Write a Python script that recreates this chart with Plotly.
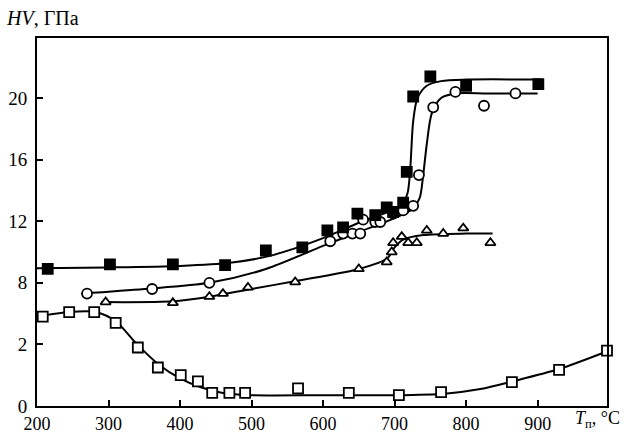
import plotly.graph_objects as go

# ---- data ----
# filled squares
fs_x = [215, 302, 390, 463, 520, 571, 606, 628, 648, 673, 689, 698, 712, 717, 726, 750, 800, 901]
fs_y = [8.9, 9.2, 9.2, 9.15, 10.1, 10.3, 11.4, 11.6, 12.5, 12.4, 12.9, 12.6, 13.2, 15.2, 20.1, 21.4, 20.8, 20.9]
fs_cx = [200, 300, 400, 470, 530, 600, 650, 690, 710, 718, 722, 726, 732, 745, 765, 800, 905]
fs_cy = [8.95, 9.0, 9.1, 9.3, 9.8, 10.9, 11.9, 12.6, 13.1, 13.8, 15.5, 18.5, 20.0, 20.8, 21.1, 21.2, 21.2]

# open circles
oc_x = [270, 361, 441, 610, 628, 641, 652, 656, 673, 680, 698, 712, 726, 734, 754, 785, 825, 869]
oc_y = [7.3, 7.6, 8.0, 10.7, 11.2, 11.2, 11.2, 12.1, 11.95, 11.95, 12.5, 12.7, 13.0, 15.0, 19.4, 20.4, 19.5, 20.3]
oc_cx = [262, 350, 441, 520, 600, 650, 700, 725, 735, 740, 745, 752, 765, 785, 830, 900]
oc_cy = [7.3, 7.6, 8.0, 8.9, 10.4, 11.3, 12.2, 12.8, 13.5, 15.0, 17.0, 19.0, 20.0, 20.3, 20.3, 20.3]

# open triangles
tr_x = [296, 390, 441, 460, 495, 561, 650, 689, 696, 698, 710, 719, 731, 745, 768, 796, 834]
tr_y = [6.75, 6.7, 7.1, 7.3, 7.7, 8.05, 8.9, 9.35, 10.0, 10.6, 11.0, 10.6, 10.6, 11.4, 11.2, 11.55, 10.6]
tr_cx = [290, 390, 441, 500, 560, 650, 690, 700, 712, 740, 800, 837]
tr_cy = [6.75, 6.8, 7.1, 7.6, 8.1, 8.9, 9.6, 10.3, 10.8, 11.1, 11.2, 11.2]

# open squares
os_x = [208, 245, 280, 310, 341, 369, 401, 425, 445, 469, 491, 565, 636, 706, 765, 864, 930, 997]
os_y = [5.8, 6.1, 6.1, 5.4, 3.8, 2.5, 2.0, 1.6, 0.85, 0.85, 0.85, 1.15, 0.85, 0.7, 0.9, 1.55, 2.35, 3.6]
os_cx = [200, 245, 282, 310, 340, 370, 400, 430, 460, 500, 600, 700, 770, 820, 865, 930, 1000]
os_cy = [5.8, 6.1, 6.1, 5.5, 4.0, 2.7, 1.8, 1.2, 0.85, 0.7, 0.7, 0.7, 0.8, 1.1, 1.6, 2.4, 3.6]

x_ticks = [200, 300, 400, 500, 600, 700, 800, 900]
y_ticks = [0, 4, 8, 12, 16, 20]
y_ticktext = ["0", "2", "8", "12", "16", "20"]

FONT = "Liberation Serif, Times New Roman, serif"

fig = go.Figure()

def curve(x, y):
    fig.add_trace(go.Scatter(x=x, y=y, mode="lines", line=dict(color="black", width=2, shape="spline", smoothing=0.8),
                             hoverinfo="skip", showlegend=False))

def marks(x, y, symbol, fill, size):
    fig.add_trace(go.Scatter(x=x, y=y, mode="markers", cliponaxis=False,
                             marker=dict(symbol=symbol, size=size, color=fill, line=dict(color="black", width=1.8)),
                             showlegend=False))

curve(os_cx, os_cy)
curve(tr_cx, tr_cy)
curve(oc_cx, oc_cy)
curve(fs_cx, fs_cy)
marks(os_x, os_y, "square", "white", 10)
marks(tr_x, tr_y, "triangle-up", "white", 9)
marks(oc_x, oc_y, "circle", "white", 10)
marks(fs_x, fs_y, "square", "black", 10)

fig.update_xaxes(range=[200, 997], tickvals=x_ticks, ticks="inside", ticklen=6, tickwidth=1.5, tickcolor="black",
                 showline=True, linecolor="black", linewidth=2, mirror=True, showgrid=False, zeroline=False,
                 automargin=False, ticklabelstandoff=0, tickfont=dict(family=FONT, size=18, color="black"))
fig.update_yaxes(range=[0, 23.9], tickvals=y_ticks, ticktext=y_ticktext, ticks="inside", ticklen=6, tickwidth=1.5,
                 tickcolor="black", showline=True, linecolor="black", linewidth=2, mirror=True, showgrid=False,
                 zeroline=False, automargin=False, ticklabelstandoff=4,
                 tickfont=dict(family=FONT, size=19, color="black"))

fig.add_annotation(xref="paper", yref="paper", x=-0.058, y=1.054, xanchor="left", yanchor="middle",
                   text="<i>HV</i>, ГПа", showarrow=False, font=dict(family=FONT, size=20, color="black"))
fig.add_annotation(xref="paper", yref="paper", x=0.983, y=-0.038, xanchor="center", yanchor="middle",
                   text="<i>T</i><sub>п</sub>, °C", showarrow=False, font=dict(family=FONT, size=18, color="black"))

fig.update_layout(width=633, height=433, margin=dict(l=37, r=26, t=38, b=27),
                  plot_bgcolor="white", paper_bgcolor="white", showlegend=False)

fig.write_html("out.html", config={"displayModeBar": False},
               post_script="document.body.style.margin='0';document.body.style.overflow='hidden';")
